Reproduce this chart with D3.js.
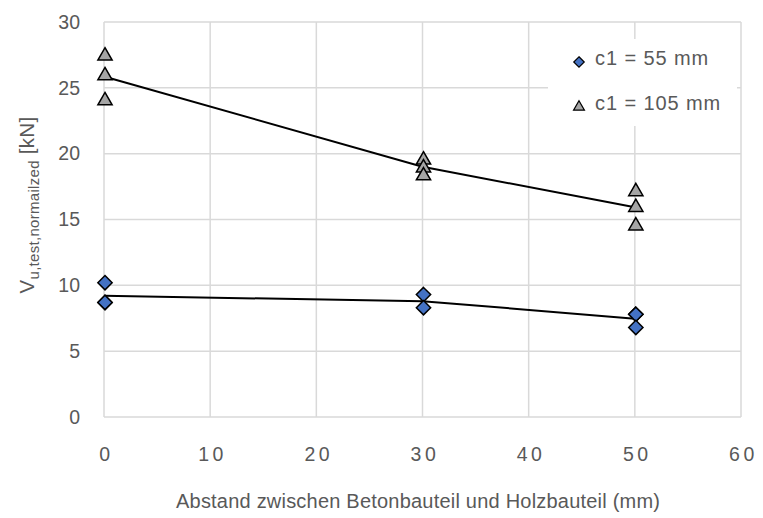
<!DOCTYPE html>
<html>
<head>
<meta charset="utf-8">
<script src="https://cdn.jsdelivr.net/npm/d3@7"></script>
<style>
body { margin: 0; background: #fff; }
text { font-family: "Liberation Sans", Arial, sans-serif; }
</style>
</head>
<body>
<svg id="chart"></svg>
<script>
// values
var xTicks = [0, 10, 20, 30, 40, 50, 60]
var yTicks = [0, 5, 10, 15, 20, 25, 30]

var c55x = [0, 0, 0, 30, 30, 50, 50, 50]
var c55y = [10.2, 8.7, 8.7, 9.3, 8.3, 7.8, 7.8, 6.8]

var c105x = [0, 0, 0, 30, 30, 30, 50, 50, 50]
var c105y = [27.5, 26.0, 24.1, 19.6, 19.0, 18.4, 17.2, 16.0, 14.6]

var seriesNames = ["c1 = 55 mm", "c1 = 105 mm"]

var dimensions = {
    width: 763,
    height: 518,
    margin: { top: 22, bottom: 101, right: 22, left: 104 }
}

var svg = d3.select("#chart")
    .attr("width", dimensions.width)
    .attr("height", dimensions.height)

var xScale = d3.scaleLinear()
    .domain([0, 60])
    .range([dimensions.margin.left, dimensions.width - dimensions.margin.right])

var yScale = d3.scaleLinear()
    .domain([0, 30])
    .range([dimensions.height - dimensions.margin.bottom, dimensions.margin.top])

var gridColor = "#d9d9d9"
var textColor = "#595959"

// grid
svg.append("g").selectAll("line.v")
    .data(xTicks)
    .enter().append("line")
    .attr("x1", d => xScale(d)).attr("x2", d => xScale(d))
    .attr("y1", yScale(30)).attr("y2", yScale(0))
    .attr("stroke", gridColor).attr("stroke-width", 1.5)

svg.append("g").selectAll("line.h")
    .data(yTicks)
    .enter().append("line")
    .attr("x1", xScale(0)).attr("x2", xScale(60))
    .attr("y1", d => yScale(d)).attr("y2", d => yScale(d))
    .attr("stroke", gridColor).attr("stroke-width", 1.5)

// tick labels
var xAxis = svg.append("g")
    .attr("transform", `translate(0,${yScale(0)})`)
    .call(d3.axisBottom(xScale).tickValues(xTicks).tickSize(0).tickPadding(30))
xAxis.select(".domain").remove()
xAxis.selectAll("text")
    .attr("font-size", 19.5).attr("fill", textColor)
    .attr("letter-spacing", "3.5px")
    .attr("dx", "0.1em")
    .style("font-family", "Liberation Sans, Arial, sans-serif")

var yAxis = svg.append("g")
    .attr("transform", `translate(${xScale(0)},0)`)
    .call(d3.axisLeft(yScale).tickValues(yTicks).tickSize(0).tickPadding(24))
yAxis.select(".domain").remove()
yAxis.selectAll("text")
    .attr("font-size", 19.5).attr("fill", textColor)
    .style("font-family", "Liberation Sans, Arial, sans-serif")

// axis titles
svg.append("text")
    .attr("x", 418).attr("y", 508)
    .attr("text-anchor", "middle")
    .attr("font-size", 20).attr("fill", textColor)
    .attr("textLength", 484).attr("lengthAdjust", "spacing")
    .text("Abstand zwischen Betonbauteil und Holzbauteil (mm)")

var yTitle = svg.append("text")
    .attr("transform", "translate(34,205) rotate(-90)")
    .attr("text-anchor", "middle")
    .attr("font-size", 20.5).attr("fill", textColor)
    .attr("letter-spacing", "0.3px")
yTitle.append("tspan").text("V")
yTitle.append("tspan").attr("font-size", 15).attr("dy", 5).text("u,test,normailzed")
yTitle.append("tspan").attr("dy", -5).text(" [kN]")

// mean lines
function means(xs, ys) {
    var g = d3.rollup(d3.range(xs.length), v => d3.mean(v, i => ys[i]), i => xs[i])
    return Array.from(g).sort((a, b) => a[0] - b[0])
}
var line = d3.line().x(d => xScale(d[0])).y(d => yScale(d[1]))

svg.append("path").datum(means(c55x, c55y))
    .attr("d", line).attr("fill", "none").attr("stroke", "#000").attr("stroke-width", 2)
svg.append("path").datum(means(c105x, c105y))
    .attr("d", line).attr("fill", "none").attr("stroke", "#000").attr("stroke-width", 2)

// markers
var diamond = d3.symbol().type(d3.symbolDiamond2).size(130)
var triangle = d3.symbol().type(d3.symbolTriangle2).size(145)

svg.append("g").selectAll("path")
    .data(c55x.map((x, i) => [x, c55y[i]]))
    .enter().append("path")
    .attr("d", diamond)
    .attr("transform", d => `translate(${xScale(d[0]) + 1},${yScale(d[1])})`)
    .attr("fill", "#4472c4").attr("stroke", "#000").attr("stroke-width", 1.5)

svg.append("g").selectAll("path")
    .data(c105x.map((x, i) => [x, c105y[i]]))
    .enter().append("path")
    .attr("d", triangle)
    .attr("transform", d => `translate(${xScale(d[0]) + 1},${yScale(d[1]) + 1})`)
    .attr("fill", "#a5a5a5").attr("stroke", "#000").attr("stroke-width", 1.5)

// legend
var legend = svg.append("g")
legend.append("rect")
    .attr("x", 548).attr("y", 39).attr("width", 189).attr("height", 87)
    .attr("fill", "#fff")

legend.append("path")
    .attr("d", d3.symbol().type(d3.symbolDiamond2).size(70))
    .attr("transform", "translate(579,62)")
    .attr("fill", "#4472c4").attr("stroke", "#000").attr("stroke-width", 1.2)
legend.append("path")
    .attr("d", d3.symbol().type(d3.symbolTriangle2).size(85))
    .attr("transform", "translate(579,107)")
    .attr("fill", "#a5a5a5").attr("stroke", "#000").attr("stroke-width", 1.2)

legend.selectAll("text.lg")
    .data(seriesNames)
    .enter().append("text")
    .attr("x", 595).attr("y", (d, i) => 65 + i * 45)
    .attr("font-size", 20).attr("fill", textColor)
    .attr("letter-spacing", "0.9px")
    .text(d => d)
</script>
</body>
</html>
